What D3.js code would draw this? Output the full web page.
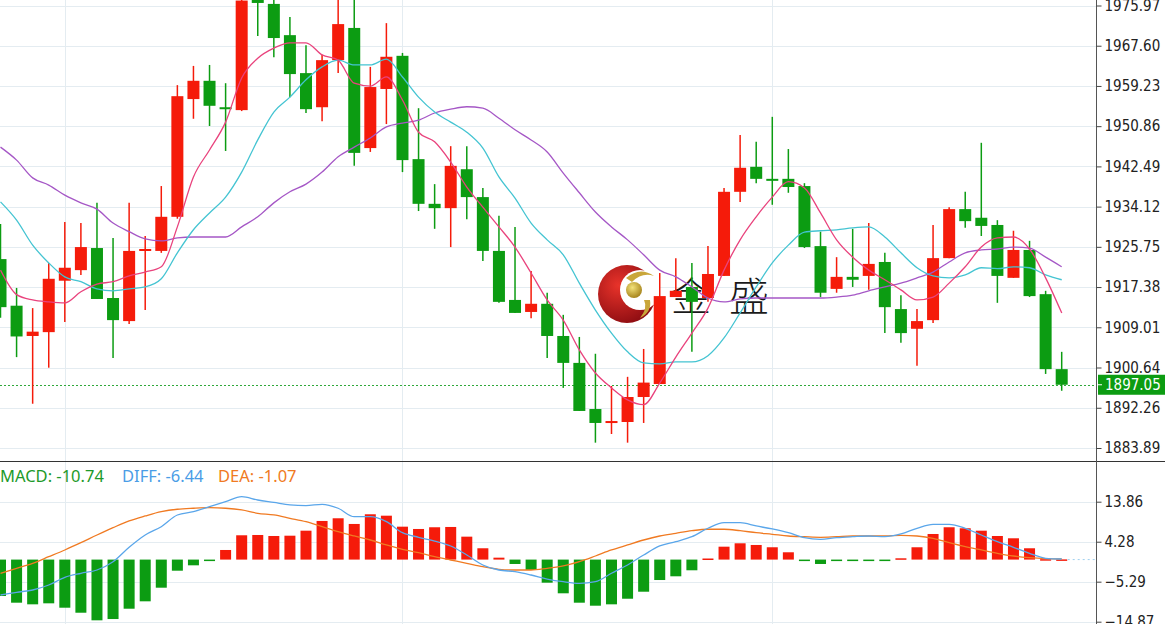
<!DOCTYPE html>
<html>
<head>
<meta charset="utf-8">
<script src="https://cdn.jsdelivr.net/npm/d3@7"></script>
<style>
  body { margin: 0; background: #fff; }
  svg { display: block; }
</style>
</head>
<body>
<div id="chart"></div>
<script>
// daily candles, oldest first
const open  = [1923.2,1913.5,1907.2,1908.0,1918.7,1920.9,1925.5,1915.1,1910.3,1924.9,1924.9,1932.0,1956.5,1960.3,1954.8,1954.2,1977.5,1976.3,1969.8,1961.9,1954.8,1964.6,1971.3,1946.3,1958.6,1965.5,1944.0,1934.7,1933.8,1941.9,1936.1,1924.9,1914.7,1912.2,1913.9,1907.2,1901.6,1892.0,1889.1,1889.3,1894.5,1897.2,1915.3,1917.4,1915.1,1919.7,1937.2,1942.4,1939.9,1939.9,1938.4,1925.9,1917.0,1919.5,1919.7,1922.6,1912.8,1908.7,1910.5,1923.4,1933.6,1931.8,1930.3,1919.3,1925.1,1915.9,1900.3];
const high  = [1930.5,1917.2,1913.0,1922.4,1930.9,1930.7,1934.9,1927.6,1934.9,1928.0,1938.4,1959.4,1963.4,1963.6,1959.8,1979.0,1980.0,1977.5,1973.6,1967.7,1965.7,1977.5,1977.8,1963.2,1972.3,1966.1,1954.6,1938.8,1946.7,1946.7,1938.0,1932.2,1929.9,1920.7,1916.2,1911.6,1907.0,1903.5,1896.8,1898.7,1904.5,1920.3,1923.4,1922.4,1925.9,1938.0,1949.0,1947.6,1952.8,1946.1,1939.0,1928.9,1923.6,1929.5,1930.7,1924.5,1915.7,1912.8,1930.3,1934.0,1937.2,1947.4,1931.3,1929.1,1927.0,1916.6,1903.9];
const low   = [1911.0,1902.8,1893.1,1900.6,1910.1,1919.9,1914.9,1902.6,1909.7,1912.6,1924.5,1931.6,1952.4,1950.9,1945.7,1954.0,1969.6,1965.2,1956.9,1953.6,1951.9,1961.9,1942.6,1945.5,1951.3,1941.3,1933.2,1929.5,1925.7,1931.5,1922.8,1914.1,1912.0,1910.9,1902.6,1896.4,1891.6,1885.0,1886.8,1885.0,1889.1,1897.2,1915.3,1903.9,1914.3,1919.7,1935.1,1939.0,1934.5,1937.0,1925.5,1915.3,1916.2,1917.4,1916.8,1907.8,1905.8,1901.0,1909.9,1923.4,1929.7,1928.0,1914.1,1919.3,1915.3,1899.3,1895.8];
const close = [1913.2,1907.1,1908.1,1919.1,1921.4,1925.7,1914.9,1910.5,1924.9,1925.3,1932.0,1957.1,1960.3,1955.1,1954.6,1977.0,1976.5,1969.2,1961.7,1954.4,1964.6,1972.1,1945.3,1959.0,1965.3,1943.8,1934.7,1933.8,1942.6,1936.1,1924.9,1914.3,1912.0,1913.9,1907.2,1901.6,1891.6,1889.1,1889.5,1894.5,1897.5,1915.5,1916.6,1914.3,1920.1,1937.2,1942.2,1939.9,1939.5,1938.2,1925.7,1916.2,1919.5,1918.9,1922.2,1913.2,1907.8,1910.3,1923.4,1933.6,1931.1,1930.1,1919.7,1925.1,1915.5,1900.3,1897.05];

const ma5  = [1920.9,1915.8,1914.7,1914.3,1914.1,1916.4,1918.0,1918.5,1919.7,1920.5,1921.6,1929.9,1940.3,1945.9,1951.7,1960.9,1965.0,1967.1,1968.2,1968.2,1965.7,1964.6,1959.8,1959.2,1961.1,1956.3,1949.6,1947.6,1943.4,1938.2,1934.0,1929.9,1925.7,1920.3,1914.7,1910.5,1904.3,1899.5,1896.4,1893.9,1892.9,1897.4,1902.8,1907.8,1913.0,1920.9,1927.2,1932.0,1936.1,1939.3,1938.0,1932.8,1927.2,1923.6,1920.9,1918.9,1916.8,1914.7,1915.3,1918.2,1921.6,1925.7,1927.6,1927.8,1925.3,1919.3,1912.0];
const ma10 = [1935.1,1931.3,1926.1,1922.4,1919.5,1918.5,1917.0,1916.6,1917.0,1917.4,1919.1,1924.5,1929.3,1932.8,1936.1,1941.3,1948.0,1953.8,1956.9,1960.5,1963.2,1964.6,1963.6,1963.6,1964.8,1961.1,1956.9,1953.8,1951.7,1949.6,1946.3,1940.3,1935.9,1930.7,1927.2,1924.1,1918.2,1912.6,1907.8,1903.9,1901.6,1901.4,1901.8,1901.8,1903.1,1906.8,1912.0,1917.4,1922.4,1926.1,1928.8,1929.1,1929.3,1929.7,1929.9,1927.8,1924.5,1921.4,1919.7,1919.3,1919.9,1921.4,1921.2,1921.6,1921.4,1919.9,1918.9];
const ma20 = [1946.5,1943.8,1940.1,1938.6,1936.5,1934.9,1933.6,1930.7,1928.9,1927.4,1927.0,1927.6,1927.8,1927.8,1927.8,1929.9,1932.0,1934.9,1937.2,1938.8,1941.3,1944.5,1946.5,1948.4,1950.7,1951.5,1952.1,1953.6,1954.4,1954.9,1954.6,1952.5,1950.1,1948.0,1945.5,1941.1,1937.0,1933.0,1929.9,1927.2,1924.1,1920.9,1919.5,1917.4,1915.1,1914.3,1914.9,1915.1,1915.1,1915.1,1915.1,1915.1,1915.3,1915.7,1916.6,1917.4,1918.2,1919.3,1920.5,1922.6,1924.5,1925.1,1925.3,1925.7,1925.5,1923.6,1921.6];

const macd = [-8.72,-10.32,-10.71,-10.47,-11.52,-12.72,-14.54,-14.23,-11.76,-9.99,-6.73,-2.66,-1.37,-0.3,2.30,5.82,5.89,5.65,5.72,6.92,9.25,9.89,8.53,10.85,10.51,7.88,7.33,7.74,7.81,5.49,2.71,0.46,-1.05,-2.49,-5.53,-8.07,-10.32,-11.04,-10.71,-9.37,-7.69,-4.89,-4.00,-2.56,0.26,3.09,3.90,3.50,2.95,1.75,-0.25,-1.05,-0.25,-0.25,-0.25,-0.3,0.31,2.95,6.13,7.74,7.50,6.92,5.65,5.10,2.71,0.1,0.05];
const diff = [-8.48,-7.83,-7.28,-6.08,-4.24,-3.28,-2.49,-0.50,2.95,5.89,7.88,10.68,11.47,12.67,13.87,15.06,14.27,13.68,13.08,12.91,13.24,12.29,10.27,10.27,9.08,6.44,5.34,4.45,3.26,1.10,-1.29,-2.49,-2.90,-3.69,-4.65,-5.29,-5.68,-5.29,-3.28,-1.29,1.10,3.26,4.29,5.48,7.50,8.84,8.84,8.05,7.33,6.44,5.25,4.86,5.25,5.48,5.65,5.48,6.13,7.50,8.45,8.45,7.50,5.89,4.29,2.95,1.51,0.31,0.14];
const dea  = [-3.28,-2.08,-0.89,0.69,2.30,4.05,5.89,7.64,9.25,10.44,11.47,12.05,12.29,12.43,12.29,11.88,11.09,10.68,9.89,9.08,7.88,6.68,5.65,4.69,3.50,2.47,1.65,0.69,-0.10,-0.89,-1.70,-2.32,-2.49,-2.49,-2.08,-1.53,-0.50,0.86,2.30,3.50,4.69,5.65,6.30,6.92,7.26,7.26,6.92,6.44,6.06,5.65,5.48,5.34,5.48,5.65,5.65,5.65,5.82,5.65,5.10,4.05,3.09,2.30,1.51,0.86,0.46,0.22,0.14];

const priceTicks = [1975.97,1967.60,1959.23,1950.86,1942.49,1934.12,1925.75,1917.38,1909.01,1900.64,1892.26,1883.89];
const macdTicks  = [13.86,4.28,-5.29,-14.87];
const gridIdx    = [4,25,48];
const legend     = [["MACD: -10.74","#1d9a2a",0],["DIFF: -6.44","#4a9de6",122],["DEA: -1.07","#f07a22",218]];
const lastPrice  = 1897.05;

const W = 1165, H = 624, AX = 1096, SPLIT = 461;
const UP = '#f51b0a', DOWN = '#0c9c12';
const AXIS_FONT = 'Tahoma, "DejaVu Sans Condensed", "Liberation Sans", sans-serif';

const svg = d3.select('#chart').append('svg')
  .attr('width', W).attr('height', H)
  .style('font-family', AXIS_FONT);

svg.append('rect').attr('width', W).attr('height', H).attr('fill', '#fff');

const x = d3.scaleLinear().domain([0, close.length - 1]).range([0.5, 1061.7]);
const y = d3.scaleLinear().domain([1883.89, 1975.97]).range([448, 5.5]);
const ym = d3.scaleLinear().domain([-14.87, 13.86]).range([621.7, 501.7]);
const bw = 12;

const defs = svg.append('defs');
defs.append('clipPath').attr('id', 'clipMain')
  .append('rect').attr('x', 0).attr('y', 0).attr('width', AX).attr('height', SPLIT);
defs.append('clipPath').attr('id', 'clipMacd')
  .append('rect').attr('x', 0).attr('y', SPLIT + 1).attr('width', AX).attr('height', H - SPLIT);

// grid
const grid = svg.append('g').attr('stroke', '#e4ecf1').attr('stroke-width', 1);
priceTicks.forEach(t => grid.append('line')
  .attr('x1', 0).attr('x2', AX).attr('y1', Math.round(y(t)) + 0.5).attr('y2', Math.round(y(t)) + 0.5));
macdTicks.forEach(t => grid.append('line')
  .attr('x1', 0).attr('x2', AX).attr('y1', Math.round(ym(t)) + 0.5).attr('y2', Math.round(ym(t)) + 0.5));
gridIdx.forEach(i => grid.append('line')
  .attr('x1', Math.round(x(i)) + 0.5).attr('x2', Math.round(x(i)) + 0.5).attr('y1', 0).attr('y2', H));

// watermark logo
const logo = svg.append('g');
const rg = defs.append('radialGradient').attr('id', 'logoRed').attr('cx', '35%').attr('cy', '35%').attr('r', '70%');
rg.append('stop').attr('offset', '0%').attr('stop-color', '#e8332a');
rg.append('stop').attr('offset', '100%').attr('stop-color', '#8e0d12');
const gg = defs.append('radialGradient').attr('id', 'logoGold').attr('cx', '40%').attr('cy', '35%').attr('r', '65%');
gg.append('stop').attr('offset', '0%').attr('stop-color', '#f3e27a');
gg.append('stop').attr('offset', '100%').attr('stop-color', '#a8861e');
logo.append('circle').attr('cx', 627).attr('cy', 294).attr('r', 29).attr('fill', 'url(#logoRed)');
logo.append('circle').attr('cx', 640).attr('cy', 290).attr('r', 20).attr('fill', '#fff');
logo.append('path').attr('d', 'M626,278 Q640,266 654,276 Q642,272 632,282 Z').attr('fill', '#c9a63a');
logo.append('path').attr('d', 'M650,300 Q652,312 640,318 Q648,308 644,300 Z').attr('fill', '#c9a63a');
logo.append('circle').attr('cx', 634).attr('cy', 290).attr('r', 8).attr('fill', 'url(#logoGold)');
[['金', 671], ['盛', 729]].forEach(([ch, lx]) => logo.append('text').attr('x', lx).attr('y', 311)
  .style('font-family', '"Noto Sans CJK SC", sans-serif').style('font-size', '40px').style('font-weight', 300)
  .attr('fill', '#1a1a1a').text(ch));

// main panel
const main = svg.append('g').attr('clip-path', 'url(#clipMain)');

main.append('line')
  .attr('x1', 0).attr('x2', AX).attr('y1', Math.round(y(lastPrice)) + 0.5).attr('y2', Math.round(y(lastPrice)) + 0.5)
  .attr('stroke', '#2fa83a').attr('stroke-dasharray', '2,2');

const candles = main.selectAll('g.c').data(close.map((c, i) => ({i, o: open[i], h: high[i], l: low[i], c})))
  .join('g').attr('class', 'c')
  .attr('fill', d => d.c >= d.o ? UP : DOWN)
  .attr('stroke', d => d.c >= d.o ? UP : DOWN);
candles.append('line')
  .attr('x1', d => x(d.i)).attr('x2', d => x(d.i))
  .attr('y1', d => y(d.h)).attr('y2', d => y(d.l)).attr('stroke-width', 1.5);
candles.append('rect')
  .attr('x', d => x(d.i) - bw / 2).attr('width', bw)
  .attr('y', d => y(Math.max(d.o, d.c)))
  .attr('height', d => Math.max(2, Math.abs(y(d.o) - y(d.c))))
  .attr('stroke', 'none');

const lineMain = arr => d3.line().x((d, i) => x(i)).y(d => y(d)).curve(d3.curveMonotoneX)(arr);
[[ma20, '#a557c6'], [ma10, '#44c4d2'], [ma5, '#e9437d']].forEach(([arr, col]) =>
  main.append('path').attr('d', lineMain(arr)).attr('fill', 'none').attr('stroke', col).attr('stroke-width', 1.3));

// macd panel
const mg = svg.append('g').attr('clip-path', 'url(#clipMacd)');
mg.selectAll('rect.h').data(macd).join('rect').attr('class', 'h')
  .attr('x', (d, i) => x(i) - 5.5).attr('width', 11)
  .attr('y', d => d >= 0 ? ym(d) : ym(0))
  .attr('height', d => Math.max(1.5, Math.abs(ym(d) - ym(0))))
  .attr('fill', d => d >= 0 ? UP : DOWN);

mg.append('line')
  .attr('x1', x(macd.length - 1) + 6).attr('x2', AX)
  .attr('y1', ym(0)).attr('y2', ym(0))
  .attr('stroke', '#9fd0ef').attr('stroke-dasharray', '2,3');

const lineMacd = arr => d3.line().x((d, i) => x(i)).y(d => ym(d)).curve(d3.curveMonotoneX)(arr);
mg.append('path').attr('d', lineMacd(dea)).attr('fill', 'none').attr('stroke', '#f07a22').attr('stroke-width', 1.3);
mg.append('path').attr('d', lineMacd(diff)).attr('fill', 'none').attr('stroke', '#5aa6ea').attr('stroke-width', 1.3);

legend.forEach(([t, col, lx]) => svg.append('text')
  .attr('x', lx).attr('y', 482).attr('fill', col)
  .style('font-family', '"Noto Sans", sans-serif').style('font-size', '16.5px').text(t));

// frame + right axis
svg.append('line').attr('x1', 0).attr('x2', W).attr('y1', SPLIT + 0.5).attr('y2', SPLIT + 0.5).attr('stroke', '#333');
svg.append('line').attr('x1', AX + 0.5).attr('x2', AX + 0.5).attr('y1', 0).attr('y2', H).attr('stroke', '#555');

const axMain = d3.axisRight(y).tickValues(priceTicks).tickFormat(d3.format('.2f')).tickSize(5).tickPadding(3);
const axM = d3.axisRight(ym).tickValues(macdTicks).tickFormat(d3.format('.2f')).tickSize(5).tickPadding(3);
[axMain, axM].forEach(a => {
  const g = svg.append('g').attr('transform', `translate(${AX + 0.5},0)`).call(a);
  g.select('.domain').remove();
  g.selectAll('line').attr('stroke', '#444');
  g.selectAll('text').attr('fill', '#222').style('font-size', '15px').style('font-family', AXIS_FONT);
});

// last price tag
const tagY = y(lastPrice);
svg.append('rect').attr('x', AX + 2).attr('y', tagY - 10).attr('width', W - AX - 2).attr('height', 20).attr('fill', '#0c9c12');
svg.append('line').attr('x1', AX + 1).attr('x2', AX + 6).attr('y1', tagY).attr('y2', tagY).attr('stroke', '#fff');
svg.append('text').attr('x', AX + 9).attr('y', tagY + 5.5).attr('fill', '#fff')
  .style('font-size', '15px').style('font-family', AXIS_FONT)
  .text(lastPrice.toFixed(2));
</script>
</body>
</html>
